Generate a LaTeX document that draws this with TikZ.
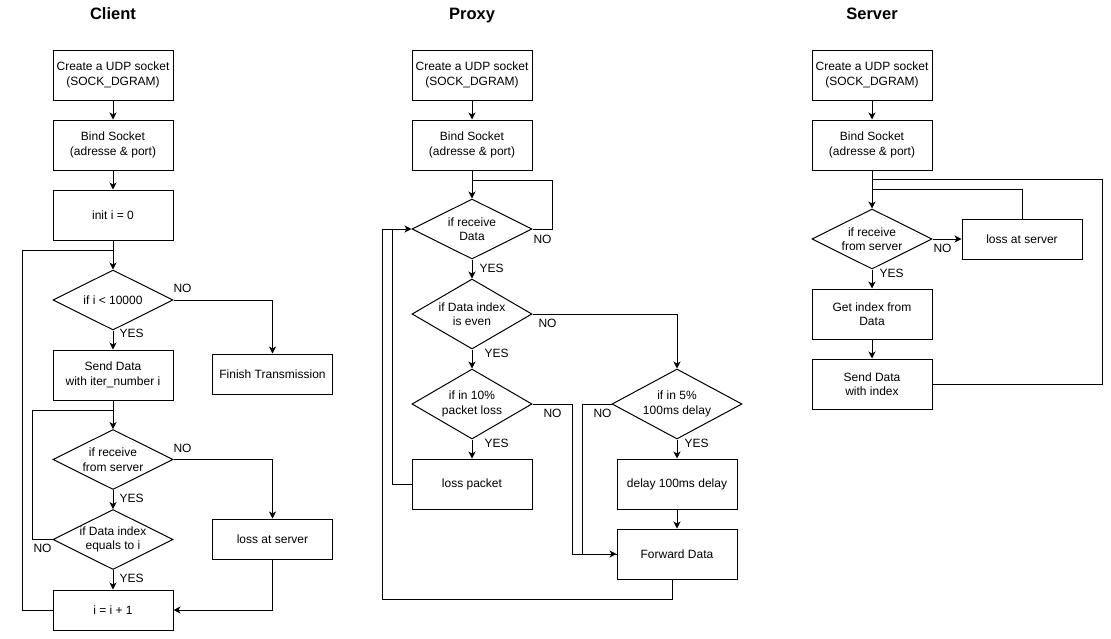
\documentclass[tikz,border=0pt]{standalone}
\usepackage{fontspec}
\setmainfont{Liberation Sans}
\usetikzlibrary{shapes.geometric,arrows.meta}
\begin{document}
\begin{tikzpicture}[x=1pt,y=-1pt,line width=1pt,
  box/.style={draw,rectangle,minimum width=120pt,minimum height=50pt,inner sep=0pt,align=center,font=\fontsize{12}{14.5}\selectfont},
  dec/.style={draw,diamond,minimum width=120pt,minimum height=60pt,inner sep=0pt},
  dl/.style={align=center,inner sep=0pt,font=\fontsize{12}{14.5}\selectfont},
  lbl/.style={anchor=west,inner sep=0pt,font=\fontsize{12}{14}\selectfont},
  ttl/.style={anchor=base,inner sep=0pt,font=\fontsize{16.5}{19}\selectfont\bfseries},
  arr/.style={-{Stealth[length=7pt,width=7pt,inset=2pt]}}]
\useasboundingbox (0,0) rectangle (1111,638);

% titles
\node[ttl] (tc) at (113,19) {Client};
\node[ttl] (tp) at (472,19) {Proxy};
\node[ttl] (ts) at (872,19) {Server};

% ---------------- Client
\node[box] (c1) at (113,75) {Create a UDP socket\\(SOCK\_DGRAM)};
\node[box] (c2) at (113,145) {Bind Socket\\(adresse \& port)};
\node[box] (c3) at (113,215) {init i = 0};
\node[dec,label={[dl]center:{if i < 10000}}] (cd1) at (113,300) {};
\node[box,minimum height=40pt] (cfin) at (272.5,374) {Finish Transmission};
\node[box] (c4) at (113,375) {Send Data\\with iter\_number i};
\node[dec,label={[dl]center:{if receive\\from server}}] (cd2) at (113,459.5) {};
\node[box,minimum height=40pt] (closs) at (272.5,539) {loss at server};
\node[dec,label={[dl]center:{if Data index\\equals to i}}] (cd3) at (113,539.5) {};
\node[box,minimum height=40pt] (c7) at (113,610) {i = i + 1};

\coordinate (cl1) at (22,250);
\coordinate (cl2) at (32,410);

\draw[arr] (c1) -- (c2);
\draw[arr] (c2) -- (c3);
\draw[arr] (c3) -- (cd1);
\draw[arr] (cd1) -- (c4);
\draw[arr] (cd1.east) -| (cfin.north);
\draw[arr] (c4) -- (cd2);
\draw[arr] (cd2.east) -| (closs.north);
\draw[arr] (cd2) -- (cd3);
\draw[arr] (cd3) -- (c7);
\draw (cd3.west) -| (cl2) -- (cl2 -| c4.south);
\draw[arr] (closs.south) |- (c7.east);
\draw (c7.west) -| (cl1) -- (cl1 -| c3.south);

\node[lbl] (cn1) at (173,288) {NO};
\node[lbl] (cy1) at (119,333) {YES};
\node[lbl] (cn2) at (173,448) {NO};
\node[lbl] (cy2) at (119,498) {YES};
\node[lbl] (cn3) at (33,548) {NO};
\node[lbl] (cy3) at (119,578) {YES};

% ---------------- Proxy
\node[box] (p1) at (472,75) {Create a UDP socket\\(SOCK\_DGRAM)};
\node[box] (p2) at (472,145) {Bind Socket\\(adresse \& port)};
\node[dec,label={[dl]center:{if receive\\Data}}] (pd1) at (472,229) {};
\node[dec,minimum height=70pt,label={[dl]center:{if Data index\\is even}}] (pd2) at (472,314) {};
\node[dec,minimum height=70pt,label={[dl]center:{if in 10\%\\packet loss}}] (pd3) at (472,404) {};
\node[box] (ploss) at (472,484) {loss packet};
\node[dec,minimum width=130pt,minimum height=70pt,label={[dl]center:{if in 5\%\\100ms delay}}] (pd4) at (677,404) {};
\node[box] (pdelay) at (677,484) {delay 100ms delay};
\node[box] (pfwd) at (677,554) {Forward Data};

\coordinate (pl1) at (552,180);
\coordinate (pl2) at (392,229);
\coordinate (pl3) at (382,599);
\coordinate (pj1) at (572,404);
\coordinate (pj2) at (582,404);

\draw[arr] (p1) -- (p2);
\draw[arr] (p2) -- (pd1);
\draw (pd1.east) -| (pl1) -- (pl1 -| p2.south);
\draw[arr] (pd1) -- (pd2);
\draw[arr] (pd2.east) -| (pd4.north);
\draw[arr] (pd2) -- (pd3);
\draw[arr] (pd3) -- (ploss);
\draw[arr] (pd4) -- (pdelay);
\draw[arr] (pdelay) -- (pfwd);
\draw[arr] (pd3.east) -- (pj1) |- (pfwd.west);
\draw (pd4.west) -- (pj2) |- (pfwd.west);
\draw[arr] (ploss.west) -| (pl2) -- (pd1.west);
\draw ([xshift=-5pt]pfwd.south) |- (pl3) |- (pl2);

\node[lbl] (pn1) at (533,239) {NO};
\node[lbl] (py1) at (479,268) {YES};
\node[lbl] (pn2) at (538,323) {NO};
\node[lbl] (py2) at (484,353) {YES};
\node[lbl] (pn3) at (543,413) {NO};
\node[lbl] (py3) at (484,443) {YES};
\node[lbl] (pn4) at (593,413) {NO};
\node[lbl] (py4) at (684,443) {YES};

% ---------------- Server
\node[box] (s1) at (872,75) {Create a UDP socket\\(SOCK\_DGRAM)};
\node[box] (s2) at (872,145) {Bind Socket\\(adresse \& port)};
\node[dec,label={[dl]center:{if receive\\from server}}] (sd1) at (872,239) {};
\node[box,minimum height=40pt] (sloss) at (1022,239) {loss at server};
\node[box] (s3) at (872,314) {Get index from\\Data};
\node[box] (s4) at (872,384) {Send Data\\with index};

\coordinate (sl1) at (1022,189);
\coordinate (sl2) at (1102,179);

\draw[arr] (s1) -- (s2);
\draw[arr] (s2) -- (sd1);
\draw[arr] (sd1.east) -- (sloss.west);
\draw[arr] (sd1) -- (s3);
\draw[arr] (s3) -- (s4);
\draw (sloss.north) -- (sl1) -- (sl1 -| s2.south);
\draw (s4.east) -| (sl2) -- (sl2 -| s2.south);

\node[lbl] (sn1) at (933,248) {NO};
\node[lbl] (sy1) at (879,273) {YES};
\end{tikzpicture}
\end{document}
